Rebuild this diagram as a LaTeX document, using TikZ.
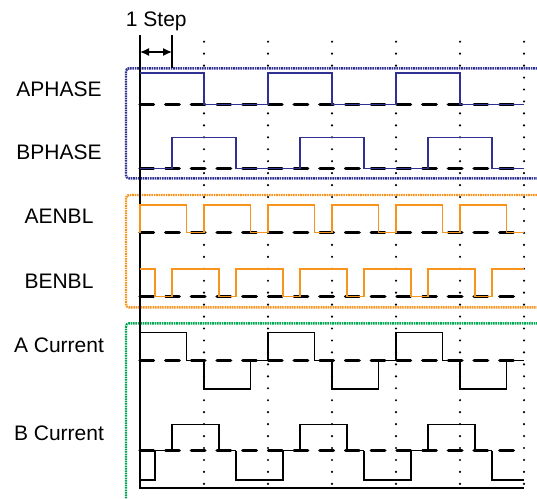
\documentclass[tikz,border=0pt]{standalone}
\usepackage{fontspec}
\setmainfont{Liberation Sans}
\usetikzlibrary{arrows.meta}
\definecolor{phaseblue}{RGB}{46,49,146}
\definecolor{enblorange}{RGB}{247,148,30}
\definecolor{curgreen}{RGB}{0,166,81}
\begin{document}
\begin{tikzpicture}[x=1pt, y=-1pt,
        sig_label/.style={font=\fontsize{21}{25}\selectfont, anchor=center},
        group_box/.style={line width=2.4pt, dash pattern=on 1.6pt off 0.8pt, rounded corners=3pt},
        phase_line/.style={draw=phaseblue, line width=1.6pt},
        enbl_line/.style={draw=enblorange, line width=1.3pt},
        cur_line/.style={draw=black, line width=1.1pt},
        zero_line/.style={line width=3.5pt, line cap=round, dash pattern=on 13.5pt off 12.2pt},
        grid_dots/.style={line width=2.4pt, line cap=round, dash pattern=on 0pt off 11.95pt}
    ]
        \useasboundingbox (0,0) rectangle (537,498);
        \clip (0,0) rectangle (537,498);

        % Group boxes
        \draw[group_box, draw=phaseblue] (126,68.3) rectangle (560,178.3);
        \draw[group_box, draw=enblorange] (126,195) rectangle (560,307.3);
        \draw[group_box, draw=curgreen] (126,323.3) rectangle (560,520);

        % Step grid
        \foreach \x in {204,268,...,524} {
            \draw[grid_dots] (\x,41.7) -- (\x,484);
        }

        % Zero lines
        \foreach \y in {104.5,168.3,232.7,296.7,360.7,450.5} {
            \draw[zero_line] (140,\y) -- (524,\y);
        }

        % Axes and step marker
        \draw[line width=2pt] (140,35) -- (140,488.3) -- (524,488.3);
        \draw[line width=1.3pt] (172,35) -- (172,68);
        \coordinate (stepL) at (140,52);
        \coordinate (stepR) at (172,52);
        \draw[{Latex[length=9pt,width=8pt]}-{Latex[length=9pt,width=8pt]}, line width=1.3pt] (stepL) -- (stepR);
        \node[sig_label, anchor=base] (steptext) at (156.3,26.7) {1 Step};

        % APHASE
        \draw[phase_line] (140,73) -- (204,73) -- (204,104.5) -- (268,104.5) -- (268,73) -- (332,73) -- (332,104.5) -- (396,104.5) -- (396,73) -- (460,73) -- (460,104.5) -- (524,104.5);
        % BPHASE
        \draw[phase_line] (140,168.3) -- (172,168.3) -- (172,137.3) -- (236,137.3) -- (236,168.3) -- (300,168.3) -- (300,137.3) -- (364,137.3) -- (364,168.3) -- (428,168.3) -- (428,137.3) -- (492,137.3) -- (492,168.3) -- (524,168.3);

        % AENBL
        \foreach \k in {0,...,5} {
            \draw[enbl_line] (140+64*\k,232.7) -- ++(0,-27.7) -- ++(46.7,0) -- ++(0,27.7) -- ++(17.3,0);
        }
        % BENBL
        \draw[enbl_line] (140,269) -- (155,269) -- (155,296.7) -- (172,296.7);
        \foreach \k in {0,...,4} {
            \draw[enbl_line] (172+64*\k,296.7) -- ++(0,-27.7) -- ++(47,0) -- ++(0,27.7) -- ++(17,0);
        }
        \draw[enbl_line] (492,296.7) -- (492,269) -- (524,269);

        % A Current
        \foreach \k/\lvl in {0/332.7,1/389,2/332.7,3/389,4/332.7,5/389} {
            \draw[cur_line] (140+64*\k,360.7) -- (140+64*\k,\lvl) -- (186.7+64*\k,\lvl) -- (186.7+64*\k,360.7) -- (204+64*\k,360.7);
        }
        % B Current
        \draw[cur_line] (140,480) -- (155,480) -- (155,450.5) -- (172,450.5);
        \foreach \k/\lvl in {0/424.3,1/480,2/424.3,3/480,4/424.3} {
            \draw[cur_line] (172+64*\k,450.5) -- (172+64*\k,\lvl) -- (219+64*\k,\lvl) -- (219+64*\k,450.5) -- (236+64*\k,450.5);
        }
        \draw[cur_line] (492,450.5) -- (492,480) -- (524,480);

        % Signal labels
        \node[sig_label] (aphase) at (59,88.9) {APHASE};
        \node[sig_label] (bphase) at (59,152.5) {BPHASE};
        \node[sig_label] (aenbl) at (59,216.7) {AENBL};
        \node[sig_label] (benbl) at (59,281.5) {BENBL};
        \node[sig_label] (acur) at (59,345.7) {A Current};
        \node[sig_label] (bcur) at (59,433) {B Current};

    \end{tikzpicture}
\end{document}
